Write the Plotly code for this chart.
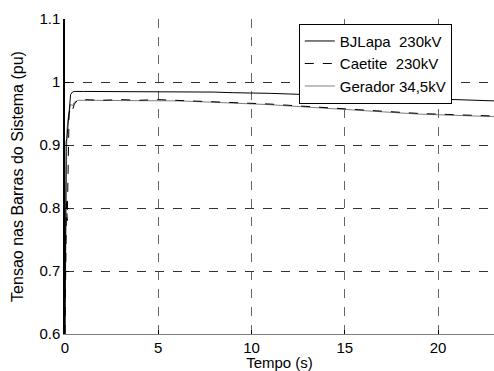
import plotly.graph_objects as go

# time (s)
t_bj = [0, 0.02, 0.06, 0.1, 0.15, 0.2, 0.25, 0.3, 0.4, 0.5, 1, 2, 3, 4, 5, 6, 7, 8, 9, 10,
        11, 12, 13, 14, 15, 16, 17, 18, 19, 20, 21, 22, 23]
v_bj = [0.6, 0.9, 0.905, 0.91, 0.93, 0.95, 0.97, 0.98, 0.984, 0.985, 0.985, 0.985, 0.985, 0.985,
        0.985, 0.985, 0.985, 0.984, 0.983, 0.983, 0.982, 0.981, 0.980, 0.979, 0.978, 0.977,
        0.976, 0.975, 0.974, 0.973, 0.972, 0.971, 0.970]

t_ca = [0, 0.03, 0.08, 0.12, 0.15, 0.18, 0.22, 0.3, 0.4, 0.5, 0.7, 1, 2, 3, 4, 5, 6, 7, 8, 9, 10,
        11, 12, 13, 14, 15, 16, 17, 18, 19, 20, 21, 22, 23]
v_ca = [0.6, 0.72, 0.81, 0.78, 0.86, 0.93, 0.95, 0.96, 0.955, 0.965, 0.972, 0.972, 0.971, 0.972,
        0.971, 0.972, 0.971, 0.970, 0.969, 0.968, 0.967, 0.965, 0.963, 0.961, 0.959, 0.957,
        0.955, 0.954, 0.952, 0.950, 0.949, 0.948, 0.947, 0.946]

t_ge = [0, 0.03, 0.06, 0.1, 0.15, 0.2, 0.25, 0.3, 0.4, 0.5, 0.7, 1, 2, 3, 4, 5, 6, 7, 8, 9, 10,
        11, 12, 13, 14, 15, 16, 17, 18, 19, 20, 21, 22, 23]
v_ge = [0.6, 0.69, 0.9, 0.92, 0.94, 0.95, 0.96, 0.965, 0.962, 0.968, 0.971, 0.971, 0.970, 0.971,
        0.970, 0.971, 0.970, 0.969, 0.968, 0.967, 0.966, 0.964, 0.962, 0.960, 0.958, 0.956,
        0.954, 0.953, 0.951, 0.949, 0.948, 0.947, 0.946, 0.945]

names = ["BJLapa  230kV", "Caetite  230kV", "Gerador 34,5kV"]

fig = go.Figure()
fig.add_trace(go.Scatter(x=t_ge, y=v_ge, mode="lines", name=names[2],
                         line=dict(color="#808080", width=1), legendrank=3))
fig.add_trace(go.Scatter(x=t_bj, y=v_bj, mode="lines", name=names[0],
                         line=dict(color="black", width=1), legendrank=1))
fig.add_trace(go.Scatter(x=t_ca, y=v_ca, mode="lines", name=names[1],
                         line=dict(color="black", width=1, dash="dash"), legendrank=2))

font = "Liberation Sans, Arial, sans-serif"
fig.update_layout(
    width=494, height=371,
    margin=dict(l=65, r=0, t=19, b=37),
    paper_bgcolor="white", plot_bgcolor="white",
    font=dict(family=font, size=15, color="black"),
    showlegend=True,
    legend=dict(x=0.545, y=0.985, xanchor="left", yanchor="top",
                bgcolor="white", bordercolor="black", borderwidth=1,
                font=dict(size=15), tracegroupgap=0, itemwidth=30),
    xaxis=dict(range=[0, 23], tickvals=[0, 5, 10, 15, 20], showgrid=True,
               gridcolor="#666", griddash="dash", gridwidth=1,
               showline=True, linecolor="#808080", linewidth=1,
               ticks="inside", ticklen=4, tickcolor="black",
               zeroline=False, title=dict(text="Tempo (s)", standoff=0,
                                          font=dict(size=15)),
               tickfont=dict(size=15)),
    yaxis=dict(range=[0.6, 1.1], tickvals=[0.6, 0.7, 0.8, 0.9, 1.0, 1.1],
               ticktext=["0.6", "0.7", "0.8", "0.9", "1", "1.1"], showgrid=True,
               gridcolor="#333", griddash="dash", gridwidth=1,
               showline=True, linecolor="black", linewidth=1.5,
               ticks="inside", ticklen=4, tickcolor="black",
               zeroline=False,
               title=dict(text="Tensao nas Barras do Sistema (pu)", standoff=12,
                          font=dict(size=16)),
               tickfont=dict(size=15)),
)

fig.write_html("out.html")
